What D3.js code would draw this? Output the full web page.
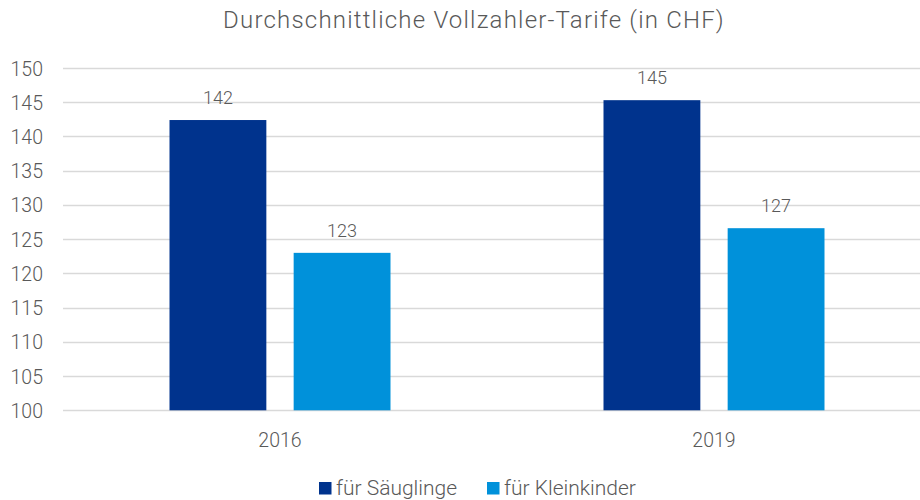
<!DOCTYPE html>
<html>
<head>
<meta charset="utf-8">
<script src="https://cdn.jsdelivr.net/npm/d3@7"></script>
<style>
  body { margin: 0; background: #fff; }
  text { font-family: Roboto, "Liberation Sans", sans-serif; font-weight: 300; fill: #595959; }
</style>
</head>
<body>
<svg id="chart" width="920" height="500"></svg>
<script>
var years = ["2016", "2019"];
var series = ["für Säuglinge", "für Kleinkinder"];
var saeuglinge = [142.4, 145.3];
var kleinkinder = [123.0, 126.6];
var colors = ["#00338D", "#0091DA"];
var yTicks = [100, 105, 110, 115, 120, 125, 130, 135, 140, 145, 150];

var svg = d3.select("#chart"),
    width = +svg.attr("width"),
    height = +svg.attr("height");

var margin = {left: 63, right: -11};

var x = d3.scaleBand()
    .domain(years)
    .range([margin.left, width - margin.right]);

var x1 = d3.scaleBand()
    .domain(series)
    .range([x.bandwidth() / 2 - 110.5, x.bandwidth() / 2 + 110.5])
    .paddingInner(0.22);

var y = d3.scaleLinear()
    .domain([100, 150])
    .range([410.3, 68]);

// title
svg.append("text")
  .attr("x", 474)
  .attr("y", 27.5)
  .attr("text-anchor", "middle")
  .style("font-size", "24px")
  .style("letter-spacing", "1.2px")
  .text("Durchschnittliche Vollzahler-Tarife (in CHF)");

// grid
svg.append("g")
  .selectAll("line")
  .data(yTicks)
  .enter().append("line")
  .attr("x1", margin.left)
  .attr("x2", width)
  .attr("y1", function(d) { return Math.round(y(d)) + 0.5; })
  .attr("y2", function(d) { return Math.round(y(d)) + 0.5; })
  .attr("stroke", "#d9d9d9")
  .attr("stroke-width", 1.3);

// y axis labels
var yAxis = d3.axisLeft(y).tickValues(yTicks).tickSize(0).tickPadding(0);
var ga = svg.append("g")
  .attr("transform", "translate(43,0)")
  .call(yAxis);
ga.select(".domain").remove();
ga.selectAll("text")
  .attr("fill", "#595959")
  .attr("dy", "0.36em")
  .style("font-size", "19.5px")
  .style("font-weight", 300)
  .style("font-family", "Roboto, 'Liberation Sans', sans-serif");

// x axis labels
svg.append("g")
  .selectAll("text")
  .data(years)
  .enter().append("text")
  .attr("x", function(d) { return x(d) + x.bandwidth() / 2; })
  .attr("y", 447)
  .attr("text-anchor", "middle")
  .style("font-size", "19.5px")
  .text(function(d) { return d; });

// bars
var data = years.map(function(yr, i) {
  return [
    {year: yr, key: series[0], value: saeuglinge[i], color: colors[0]},
    {year: yr, key: series[1], value: kleinkinder[i], color: colors[1]}
  ];
});

var groups = svg.append("g")
  .selectAll("g")
  .data(data)
  .enter().append("g")
  .attr("transform", function(d) { return "translate(" + x(d[0].year) + ",0)"; });

groups.selectAll("rect")
  .data(function(d) { return d; })
  .enter().append("rect")
  .attr("x", function(d) { return x1(d.key); })
  .attr("width", x1.bandwidth())
  .attr("y", function(d) { return y(d.value); })
  .attr("height", function(d) { return y(100) - y(d.value); })
  .attr("fill", function(d) { return d.color; });

groups.selectAll("text")
  .data(function(d) { return d; })
  .enter().append("text")
  .attr("x", function(d) { return x1(d.key) + x1.bandwidth() / 2; })
  .attr("y", function(d) { return y(d.value) - 16; })
  .attr("text-anchor", "middle")
  .style("font-size", "18px")
  .text(function(d) { return d3.format(".0f")(d.value); });

// legend
var legendX = [319, 487];
var legend = svg.append("g")
  .selectAll("g")
  .data(series)
  .enter().append("g")
  .attr("transform", function(d, i) { return "translate(" + legendX[i] + ",495)"; });

legend.append("rect")
  .attr("width", 12.5)
  .attr("height", 12.5)
  .attr("y", -13)
  .attr("fill", function(d, i) { return colors[i]; });

legend.append("text")
  .attr("x", 17)
  .attr("y", 0)
  .style("font-size", "21px")
  .text(function(d) { return d; });
</script>
</body>
</html>
